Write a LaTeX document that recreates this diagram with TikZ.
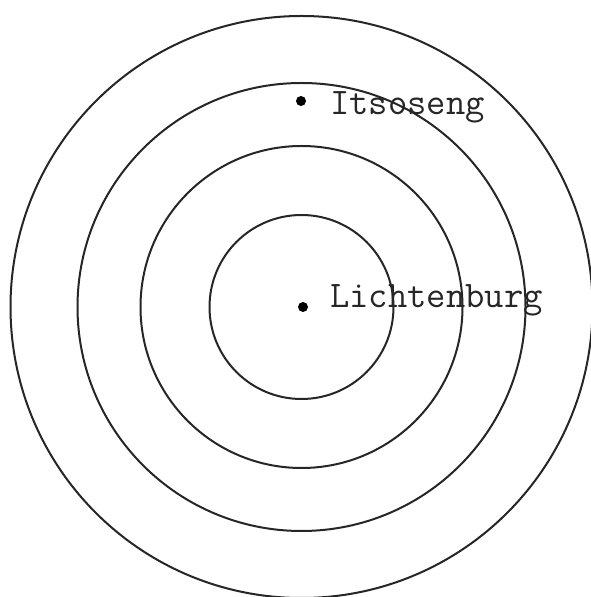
\documentclass[tikz,border=0pt]{standalone}
\usetikzlibrary{positioning}

\begin{document}
\begin{tikzpicture}[x=1pt,y=1pt,
	town/.style={circle,fill=black,inner sep=0pt,minimum size=10pt},
	townname/.style={anchor=base west,inner sep=0pt,font=\ttfamily\fontsize{37.5}{37.5}\selectfont,text=black!85},
	ring/.style={line width=2pt,color=black!85},
]
\useasboundingbox (0,0) rectangle (591,597);
\begin{scope}
\clip (0,0) rectangle (591,597);
\foreach \r in {92,161,224,291}
    \draw[ring] (301.5,290) circle (\r);
\end{scope}

\node[town] (lichtenburg) at (303,290) {};
\node[town] (itsoseng) at (301,496) {};
\node[townname] (lichtenburglabel) at (330,289) {Lichtenburg};
\node[townname] (itsosenglabel) at (330,482) {Itsoseng};

\end{tikzpicture}
\end{document}
